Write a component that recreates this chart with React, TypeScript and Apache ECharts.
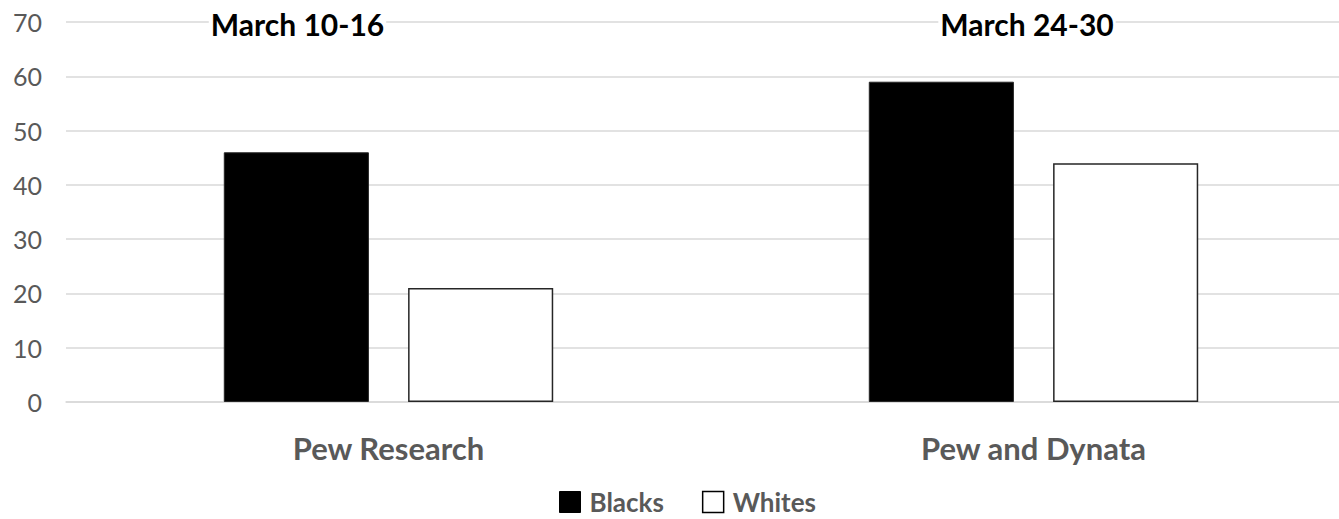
import React, { useEffect, useRef } from "react";
import * as echarts from "echarts";

const categories = ["Pew Research", "Pew and Dynata"];
const blacks = [46, 59];
const whites = [21, 44];
const periodLabels = ["March 10-16", "March 24-30"];
const yTicks = { min: 0, max: 70, interval: 10 };

export default function App() {
  const ref = useRef<HTMLDivElement>(null);
  useEffect(() => {
    if (!ref.current) return;
    const chart = echarts.init(ref.current, null, { renderer: "svg" });
    const font = "Lato, 'Open Sans', sans-serif";
    chart.setOption({
      animation: false,
      textStyle: { fontFamily: font },
      grid: {
        left: 66,
        width: 1290,
        top: 22,
        height: 380,
        containLabel: false,
        outerBoundsMode: "none",
      },
      legend: {
        data: [
          { name: "Blacks", itemStyle: { color: "#000", borderColor: "#000", borderWidth: 1 } },
          { name: "Whites", itemStyle: { color: "#fff", borderColor: "#000", borderWidth: 1.5 } },
        ],
        left: 559,
        top: 489,
        padding: 0,
        itemWidth: 21,
        itemHeight: 21,
        itemGap: 38,
        icon: "rect",
        textStyle: {
          fontSize: 26,
          fontWeight: "bold",
          color: "#595959",
          fontFamily: font,
          padding: [0, 0, 0, 4],
        },
      },
      xAxis: {
        type: "category",
        data: categories,
        axisLine: { show: true, lineStyle: { color: "#d9d9d9", width: 1.5 } },
        axisTick: { show: false },
        axisLabel: { fontSize: 31, fontWeight: "bold", color: "#595959", margin: 30, fontFamily: font },
      },
      yAxis: {
        type: "value",
        min: yTicks.min,
        max: yTicks.max,
        interval: yTicks.interval,
        axisLine: { show: false },
        axisTick: { show: false },
        splitLine: { lineStyle: { color: "#d9d9d9", width: 1.5 } },
        axisLabel: { fontSize: 25, color: "#595959", margin: 24, fontFamily: font },
      },
      series: [
        {
          name: "Blacks",
          type: "bar",
          data: blacks,
          barWidth: "22.5%",
          barGap: "27%",
          itemStyle: { color: "#000", borderColor: "#262626", borderWidth: 1 },
        },
        {
          name: "Whites",
          type: "bar",
          data: whites,
          barWidth: "22.5%",
          itemStyle: { color: "#fff", borderColor: "#262626", borderWidth: 1.5 },
        },
      ],
      graphic: [
        {
          type: "text",
          x: 297.5,
          y: 24,
          z: 100,
          style: {
            text: periodLabels[0],
            align: "center",
            verticalAlign: "middle",
            fontSize: 30,
            fontWeight: "bold",
            fill: "#000",
            fontFamily: font,
            backgroundColor: "#fff",
            padding: [0, 2],
          },
        },
        {
          type: "text",
          x: 1027,
          y: 24,
          z: 100,
          style: {
            text: periodLabels[1],
            align: "center",
            verticalAlign: "middle",
            fontSize: 30,
            fontWeight: "bold",
            fill: "#000",
            fontFamily: font,
            backgroundColor: "#fff",
            padding: [0, 2],
          },
        },
      ],
    });
    return () => chart.dispose();
  }, []);
  return (
    <div
      ref={ref}
      style={{ position: "fixed", left: 0, top: 0, width: 1339, height: 519, background: "#fff" }}
    />
  );
}
